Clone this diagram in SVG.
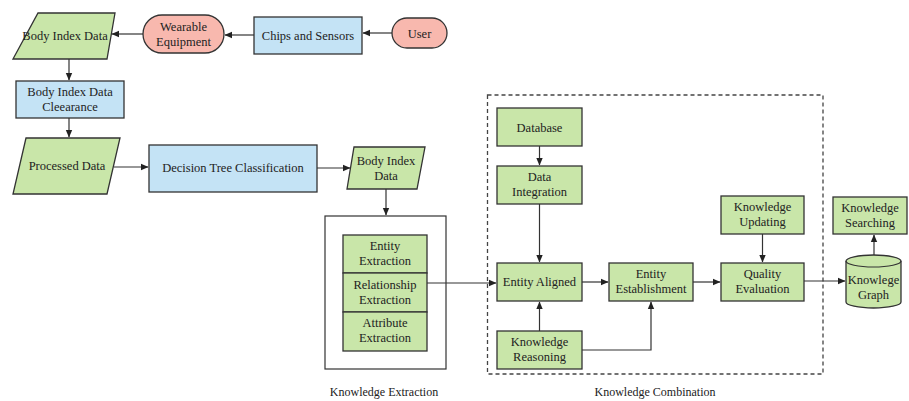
<svg xmlns="http://www.w3.org/2000/svg" width="909" height="401" viewBox="0 0 909 401">
  <defs>
    <marker id="arrow" markerWidth="8" markerHeight="8" refX="7" refY="4" orient="auto" markerUnits="userSpaceOnUse">
      <path d="M0,0.8 L7.5,4 L0,7.2 Z" fill="#222"/>
    </marker>
    <style>
      .green { fill: #c9e6a9; stroke: #333; stroke-width: 1.3; }
      .blue { fill: #c4e3f5; stroke: #333; stroke-width: 1.3; }
      .pink { fill: #f8b8ae; stroke: #333; stroke-width: 1.3; }
      .frame { fill: none; stroke: #333; stroke-width: 1.2; }
      .dashed { fill: none; stroke: #444; stroke-width: 1.3; stroke-dasharray: 4 3; }
      .edge { fill: none; stroke: #333; stroke-width: 1.2; marker-end: url(#arrow); }
      text { font-family: "Liberation Serif", "Times New Roman", serif; font-size: 12.5px; fill: #222; text-anchor: middle; }
      .cap { font-size: 12px; }
    </style>
  </defs>
  <rect width="909" height="401" fill="#fff"/>

  <!-- containers -->
  <g id="knowledge-extraction">
    <rect class="frame" x="325" y="216" width="121" height="153"/>
    <text class="cap" x="384" y="396">Knowledge Extraction</text>
  </g>
  <g id="knowledge-combination">
    <rect class="dashed" x="487.5" y="95" width="335.5" height="279"/>
    <text class="cap" x="655" y="396">Knowledge Combination</text>
  </g>

  <!-- data acquisition chain -->
  <g id="user">
    <rect class="pink" x="392" y="18" width="55" height="30" rx="15"/>
    <text x="419.5" y="37.5">User</text>
  </g>
  <g id="chips-sensors">
    <rect class="blue" x="254" y="17" width="108" height="37"/>
    <text x="308" y="40">Chips and Sensors</text>
  </g>
  <g id="wearable-equipment">
    <rect class="pink" x="143" y="15" width="81" height="38" rx="19"/>
    <text x="183.5" y="31">Wearable</text>
    <text x="183.5" y="45.5">Equipment</text>
  </g>
  <g id="body-index-data">
    <polygon class="green" points="38,13 115,13 107,59 13,59"/>
    <text x="65" y="39.5">Body Index Data</text>
  </g>
  <g id="data-clearance">
    <rect class="blue" x="16" y="81" width="108" height="37"/>
    <text x="70" y="95.5">Body Index Data</text>
    <text x="70" y="110.5">Cleearance</text>
  </g>
  <g id="processed-data">
    <polygon class="green" points="26,138 120,138 107,194 13,194"/>
    <text x="67" y="169.5">Processed Data</text>
  </g>
  <g id="decision-tree">
    <rect class="blue" x="149" y="145" width="168" height="47"/>
    <text x="233" y="172">Decision Tree Classification</text>
  </g>
  <g id="body-index-data-2">
    <polygon class="green" points="354,147 425,147 417,189 347,189"/>
    <text x="386" y="164.5">Body Index</text>
    <text x="386" y="179.5">Data</text>
  </g>

  <!-- extraction stack -->
  <g id="entity-extraction">
    <rect class="green" x="343" y="235" width="84" height="38"/>
    <text x="385" y="250">Entity</text>
    <text x="385" y="265">Extraction</text>
  </g>
  <g id="relationship-extraction">
    <rect class="green" x="343" y="273" width="84" height="39"/>
    <text x="385" y="288.5">Relationship</text>
    <text x="385" y="303.5">Extraction</text>
  </g>
  <g id="attribute-extraction">
    <rect class="green" x="343" y="312" width="84" height="39"/>
    <text x="385" y="327">Attribute</text>
    <text x="385" y="342">Extraction</text>
  </g>

  <!-- combination -->
  <g id="database">
    <rect class="green" x="497" y="108" width="85" height="38"/>
    <text x="539.5" y="131.5">Database</text>
  </g>
  <g id="data-integration">
    <rect class="green" x="497" y="166" width="85" height="38"/>
    <text x="539.5" y="181">Data</text>
    <text x="539.5" y="196">Integration</text>
  </g>
  <g id="entity-aligned">
    <rect class="green" x="497" y="263" width="85" height="38"/>
    <text x="539.5" y="286">Entity Aligned</text>
  </g>
  <g id="knowledge-reasoning">
    <rect class="green" x="497" y="331" width="85" height="38"/>
    <text x="539.5" y="346">Knowledge</text>
    <text x="539.5" y="361">Reasoning</text>
  </g>
  <g id="entity-establishment">
    <rect class="green" x="609" y="263" width="84" height="38"/>
    <text x="651" y="278">Entity</text>
    <text x="651" y="293">Establishment</text>
  </g>
  <g id="knowledge-updating">
    <rect class="green" x="721" y="196" width="83" height="38"/>
    <text x="762.5" y="211">Knowledge</text>
    <text x="762.5" y="226">Updating</text>
  </g>
  <g id="quality-evaluation">
    <rect class="green" x="721" y="263" width="83" height="38"/>
    <text x="762.5" y="278">Quality</text>
    <text x="762.5" y="293">Evaluation</text>
  </g>

  <!-- outputs -->
  <g id="knowledge-searching">
    <rect class="green" x="833" y="197" width="74" height="37"/>
    <text x="870" y="212">Knowledge</text>
    <text x="870" y="227">Searching</text>
  </g>
  <g id="knowledge-graph">
    <path class="green" d="M846,261 L846,302 A27.5,6 0 0 0 901,302 L901,261 A27.5,6 0 0 0 846,261 Z"/>
    <path class="frame" d="M846,261 A27.5,6 0 0 0 901,261"/>
    <text x="873.5" y="284">Knowlege</text>
    <text x="873.5" y="299">Graph</text>
  </g>

  <g id="connectors">
    <line class="edge" x1="392" y1="33" x2="363" y2="33"/>
    <line class="edge" x1="254" y1="35" x2="225" y2="35"/>
    <line class="edge" x1="143" y1="34" x2="112" y2="34"/>
    <line class="edge" x1="69" y1="59" x2="69" y2="80"/>
    <line class="edge" x1="69" y1="118" x2="69" y2="137"/>
    <line class="edge" x1="114" y1="167" x2="148" y2="167"/>
    <line class="edge" x1="317" y1="168" x2="350" y2="168"/>
    <line class="edge" x1="386" y1="189" x2="386" y2="215"/>
    <line class="edge" x1="427" y1="283" x2="496" y2="283"/>
    <line class="edge" x1="539.5" y1="146" x2="539.5" y2="165"/>
    <line class="edge" x1="539.5" y1="204" x2="539.5" y2="262"/>
    <line class="edge" x1="539.5" y1="331" x2="539.5" y2="302"/>
    <polyline class="edge" points="582,350 651,350 651,302"/>
    <line class="edge" x1="582" y1="282" x2="608" y2="282"/>
    <line class="edge" x1="693" y1="282" x2="720" y2="282"/>
    <line class="edge" x1="762.5" y1="234" x2="762.5" y2="262"/>
    <line class="edge" x1="804" y1="281" x2="845" y2="281"/>
    <line class="edge" x1="874" y1="255" x2="874" y2="235"/>
  </g>
</svg>
